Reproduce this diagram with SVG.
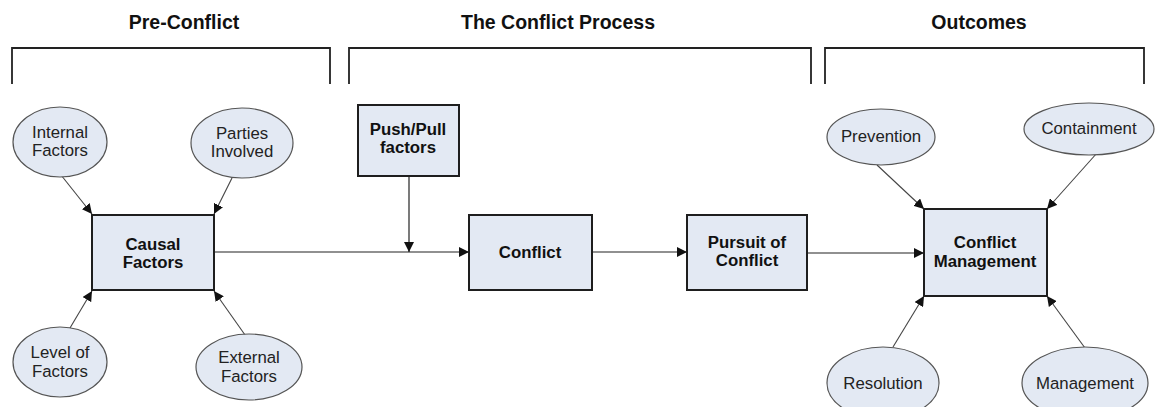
<svg xmlns="http://www.w3.org/2000/svg" width="1156" height="407" viewBox="0 0 1156 407">
  <style>
    .title { font-family: "Liberation Sans", Arial, sans-serif; font-size: 19.5px; font-weight: bold; fill: #111; text-anchor: middle; }
    .lbl { font-family: "Liberation Sans", Arial, sans-serif; font-size: 16.8px; fill: #222; text-anchor: middle; }
    .blbl { font-family: "Liberation Sans", Arial, sans-serif; font-size: 16.8px; font-weight: bold; fill: #111; text-anchor: middle; }
    .box { fill: #E3E9F3; stroke: #1e1e1e; stroke-width: 2; }
    .oval { fill: #E3E9F3; stroke: #555; stroke-width: 1.2; }
    .bracket { fill: none; stroke: #222; stroke-width: 1.8; }
    .conn { fill: none; stroke: #222; stroke-width: 1.2; }
    .diag { fill: none; stroke: #444; stroke-width: 1.1; }
  </style>
  <defs>
    <marker id="arrow" viewBox="0 0 10 10" refX="10" refY="5" markerWidth="10" markerHeight="10" markerUnits="userSpaceOnUse" orient="auto">
      <path d="M0,0 L10,5 L0,10 z" fill="#111"/>
    </marker>
  </defs>
  <rect width="1156" height="407" fill="#fff"/>

  <!-- stage headings and brackets -->
  <g id="stages">
    <text class="title" x="184" y="29">Pre-Conflict</text>
    <text class="title" x="558" y="29">The Conflict Process</text>
    <text class="title" x="979" y="29">Outcomes</text>
    <path class="bracket" d="M12,84 V48 H330 V84"/>
    <path class="bracket" d="M349,84 V48 H811 V84"/>
    <path class="bracket" d="M825,84 V48 H1144 V84"/>
  </g>

  <!-- connectors -->
  <g id="connectors">
    <line class="diag" x1="61" y1="175" x2="92" y2="214" marker-end="url(#arrow)"/>
    <line class="diag" x1="232" y1="178" x2="214" y2="214" marker-end="url(#arrow)"/>
    <line class="diag" x1="67" y1="333" x2="92" y2="291" marker-end="url(#arrow)"/>
    <line class="diag" x1="250" y1="342" x2="214" y2="291" marker-end="url(#arrow)"/>
    <line class="conn" x1="214" y1="252" x2="469" y2="252" marker-end="url(#arrow)"/>
    <line class="conn" x1="409" y1="176" x2="409" y2="252" marker-end="url(#arrow)"/>
    <line class="conn" x1="592" y1="252" x2="687" y2="252" marker-end="url(#arrow)"/>
    <line class="conn" x1="807" y1="253" x2="924" y2="253" marker-end="url(#arrow)"/>
    <line class="diag" x1="877" y1="165" x2="924" y2="209" marker-end="url(#arrow)"/>
    <line class="diag" x1="1097" y1="153" x2="1047" y2="209" marker-end="url(#arrow)"/>
    <line class="diag" x1="893" y1="347" x2="924" y2="296" marker-end="url(#arrow)"/>
    <line class="diag" x1="1085" y1="348" x2="1047" y2="296" marker-end="url(#arrow)"/>
  </g>

  <!-- pre-conflict nodes -->
  <g id="internal-factors">
    <ellipse class="oval" cx="60" cy="142" rx="47" ry="35"/>
    <text class="lbl" x="60" y="138">Internal</text>
    <text class="lbl" x="60" y="156">Factors</text>
  </g>
  <g id="parties-involved">
    <ellipse class="oval" cx="242" cy="143" rx="51" ry="35"/>
    <text class="lbl" x="242" y="139">Parties</text>
    <text class="lbl" x="242" y="157">Involved</text>
  </g>
  <g id="causal-factors">
    <rect class="box" x="92" y="215" width="122" height="75"/>
    <text class="blbl" x="153" y="250">Causal</text>
    <text class="blbl" x="153" y="268">Factors</text>
  </g>
  <g id="level-of-factors">
    <ellipse class="oval" cx="60" cy="362" rx="47" ry="35"/>
    <text class="lbl" x="60" y="358">Level of</text>
    <text class="lbl" x="60" y="377">Factors</text>
  </g>
  <g id="external-factors">
    <ellipse class="oval" cx="249" cy="367" rx="53" ry="33"/>
    <text class="lbl" x="249" y="363">External</text>
    <text class="lbl" x="249" y="382">Factors</text>
  </g>

  <!-- conflict process nodes -->
  <g id="push-pull-factors">
    <rect class="box" x="358" y="105" width="101" height="71"/>
    <text class="blbl" x="408" y="135">Push/Pull</text>
    <text class="blbl" x="408" y="153">factors</text>
  </g>
  <g id="conflict">
    <rect class="box" x="469" y="215" width="123" height="75"/>
    <text class="blbl" x="530" y="258">Conflict</text>
  </g>
  <g id="pursuit-of-conflict">
    <rect class="box" x="687" y="215" width="120" height="75"/>
    <text class="blbl" x="747" y="248">Pursuit of</text>
    <text class="blbl" x="747" y="266">Conflict</text>
  </g>

  <!-- outcome nodes -->
  <g id="conflict-management">
    <rect class="box" x="924" y="209" width="123" height="87"/>
    <text class="blbl" x="985" y="248">Conflict</text>
    <text class="blbl" x="985" y="267">Management</text>
  </g>
  <g id="prevention">
    <ellipse class="oval" cx="881" cy="137" rx="54" ry="28"/>
    <text class="lbl" x="881" y="142">Prevention</text>
  </g>
  <g id="containment">
    <ellipse class="oval" cx="1089" cy="129" rx="65" ry="26"/>
    <text class="lbl" x="1089" y="134">Containment</text>
  </g>
  <g id="resolution">
    <ellipse class="oval" cx="883" cy="383" rx="56" ry="36"/>
    <text class="lbl" x="883" y="389">Resolution</text>
  </g>
  <g id="management">
    <ellipse class="oval" cx="1085" cy="383" rx="63" ry="36"/>
    <text class="lbl" x="1085" y="389">Management</text>
  </g>
</svg>
